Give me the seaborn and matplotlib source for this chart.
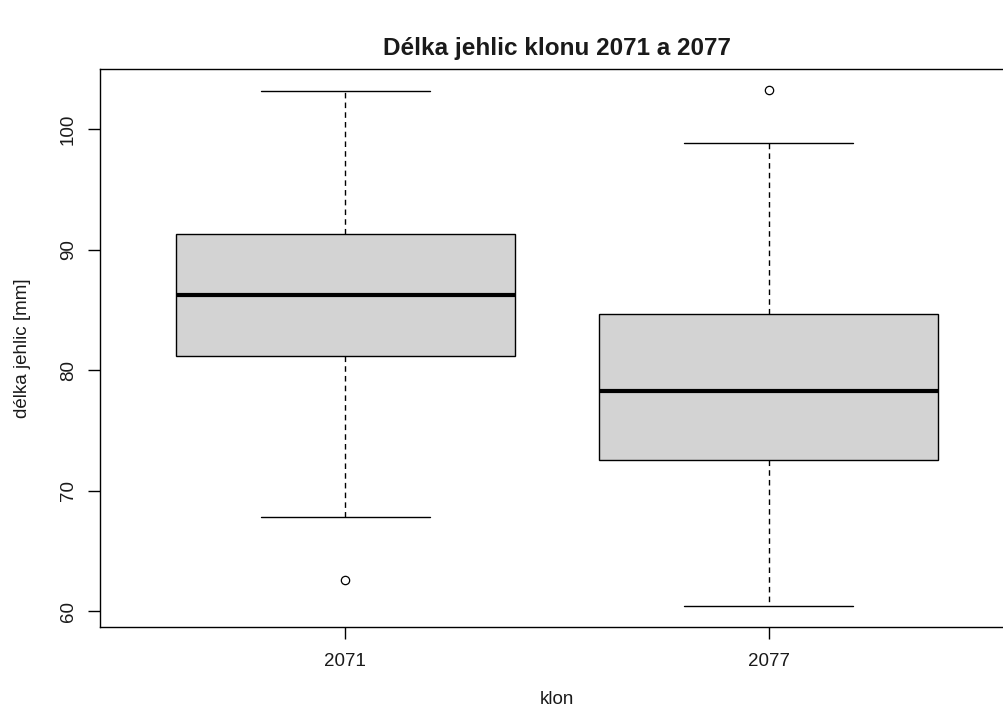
import numpy as np
import pandas as pd
import matplotlib
matplotlib.use("Agg")
import matplotlib.pyplot as plt
import seaborn as sns

# values (nine per clone so the quartiles land where the picture shows them)
klony = ["2071", "2077"]
delka_2071 = [62.6, 67.86, 81.14, 83.5, 86.2, 88.8, 91.25, 96.5, 103.13]
delka_2077 = [60.42, 68.0, 72.58, 75.5, 78.23, 81.5, 84.65, 98.83, 103.25]
y_ticks = [60, 70, 80, 90, 100]

df = pd.DataFrame({
    "klon": [klony[0]] * len(delka_2071) + [klony[1]] * len(delka_2077),
    "delka": delka_2071 + delka_2077,
})

sns.set_theme(style="ticks")
plt.rcParams["font.family"] = ["Liberation Sans", "DejaVu Sans"]
plt.rcParams["text.color"] = "#1a1a1a"
plt.rcParams["axes.labelcolor"] = "#1a1a1a"
plt.rcParams["xtick.color"] = "#1a1a1a"
plt.rcParams["ytick.color"] = "#1a1a1a"

fig = plt.figure(figsize=(10.04, 7.2), dpi=100)
ax = fig.add_axes([100 / 1004, 93 / 720, 914 / 1004, 558 / 720])

sns.boxplot(
    data=df, x="klon", y="delka", order=klony,
    color="#d3d3d3", saturation=1, width=0.8,
    linecolor="black", linewidth=1, whis=1.5, fliersize=6,
    flierprops=dict(marker="o", markerfacecolor="none",
                    markeredgecolor="black", markeredgewidth=0.9),
    whiskerprops=dict(linestyle=(0, (4, 3))),
    medianprops=dict(linewidth=3, color="black"),
    ax=ax,
)

# R-like axis extents: 4% padding around the data / category range
vals = np.array(delka_2071 + delka_2077)
pad = 0.04 * (vals.max() - vals.min())
ax.set_ylim(vals.min() - pad, vals.max() + pad)
ax.set_xlim(-0.58, 1.58)

ax.set_yticks(y_ticks)
ax.set_yticklabels([str(t) for t in y_ticks], rotation=90, va="center")
for s in ax.spines.values():
    s.set_visible(True)
    s.set_color("black")
    s.set_linewidth(1)
ax.tick_params(axis="both", length=8.5, width=1, color="black", labelsize=13.5)
ax.tick_params(axis="x", pad=10)
ax.tick_params(axis="y", pad=8)

ax.set_xlabel("klon", fontsize=13.5, labelpad=15)
ax.set_ylabel("délka jehlic [mm]", fontsize=13.5, labelpad=21)
ax.set_title("Délka jehlic klonu 2071 a 2077", fontsize=17.5,
             fontweight="bold", pad=10)

fig.savefig("out.png", dpi=100)
